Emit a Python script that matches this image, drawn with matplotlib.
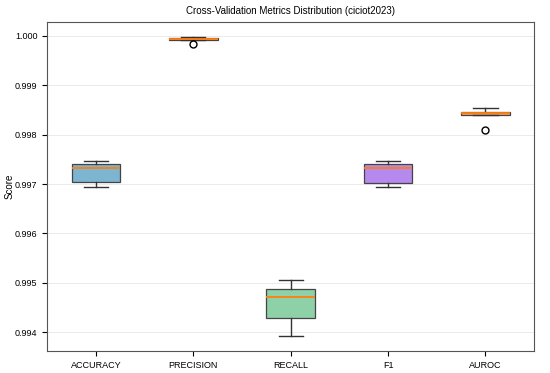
import numpy as np
import matplotlib
matplotlib.use("Agg")
import matplotlib.pyplot as plt

plt.rcParams['font.family'] = ['Liberation Sans', 'DejaVu Sans']

# fold scores
metrics = ['ACCURACY', 'PRECISION', 'RECALL', 'F1', 'AUROC']
accuracy = [0.99694, 0.99705, 0.99733, 0.99741, 0.99747]
precision = [0.99983, 0.99991, 0.99993, 0.99995, 0.99998]
recall = [0.99392, 0.99428, 0.99472, 0.99487, 0.99506]
f1 = [0.99693, 0.99703, 0.99733, 0.99740, 0.99746]
auroc = [0.99809, 0.99840, 0.99843, 0.99846, 0.99854]
colors = ['#7db4d0', '#f2a06a', '#8ed1a8', '#b689ef', '#f2a06a']

fig = plt.figure(figsize=(5.5, 3.73), dpi=100)
ax = fig.add_axes([0.086, 0.059, 0.885, 0.882])

bp = ax.boxplot([accuracy, precision, recall, f1, auroc], patch_artist=True,
                widths=0.5,
                medianprops=dict(color='#ff7f0e', linewidth=1.3),
                boxprops=dict(color='#444444', linewidth=0.9),
                whiskerprops=dict(color='#333333', linewidth=1.0),
                capprops=dict(color='#333333', linewidth=1.0),
                flierprops=dict(marker='o', markerfacecolor='white',
                                markeredgecolor='black', markersize=5))
for patch, c in zip(bp['boxes'], colors):
    patch.set_facecolor(c)
    patch.set_edgecolor('#444444')

ax.set_xticks(range(1, len(metrics) + 1))
ax.set_xticklabels(metrics, fontsize=6.5)
ax.tick_params(axis='y', labelsize=6.5)
ax.set_yticks([0.994, 0.995, 0.996, 0.997, 0.998, 0.999, 1.000])
ax.set_yticklabels(['%.3f' % v for v in ax.get_yticks()])
ax.set_ylabel('Score', fontsize=7, labelpad=0.5)
ax.set_title('Cross-Validation Metrics Distribution (ciciot2023)', fontsize=7, pad=6)
ax.grid(axis='y', color='#e6e6e6', linestyle='-', linewidth=0.6)
ax.set_axisbelow(True)
for s in ax.spines.values():
    s.set_color('#555555')

fig.savefig('out.png', dpi=100)
